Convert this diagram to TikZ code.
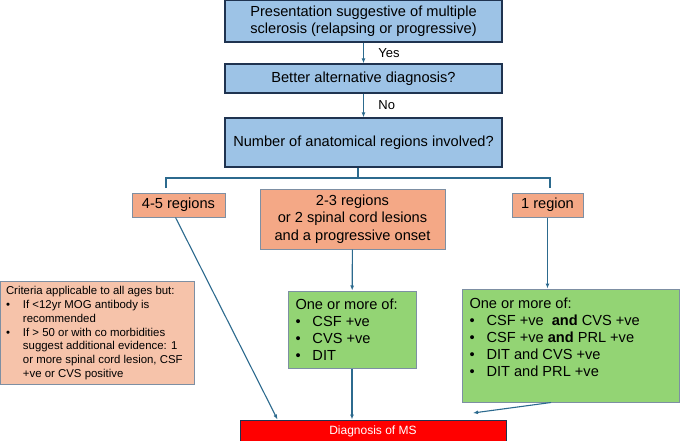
\documentclass[tikz,border=0pt]{standalone}
\usepackage{fontspec}
\setmainfont{Liberation Sans}
\usetikzlibrary{arrows.meta}
\definecolor{qfill}{HTML}{9DC3E6}
\definecolor{qline}{HTML}{1F3350}
\definecolor{regfill}{HTML}{F4A886}
\definecolor{critfill}{HTML}{F6C3AA}
\definecolor{okfill}{HTML}{93D474}
\definecolor{greyline}{HTML}{7D8FA3}
\definecolor{linkcol}{HTML}{2C6A8E}
\newcommand\bul{\makebox[17pt][l]{\textbullet}}
\newcommand\hang{\hspace*{17pt}}
\tikzset{
  qbox/.style={draw=qline, fill=qfill, line width=1.3pt, minimum width=277pt, align=center, font=\fontsize{14.6}{17}\selectfont},
  regbox/.style={draw=greyline, fill=regfill, line width=1pt, align=center, font=\fontsize{14.6}{17.4}\selectfont},
  okbox/.style={draw=greyline, fill=okfill, line width=1pt, inner xsep=7.5pt, inner ysep=7.5pt, font=\fontsize{14.6}{17}\selectfont},
  link/.style={draw=linkcol, line width=1.1pt},
  arr/.style={link, -{Latex[length=5pt,width=4pt]}}
}
\begin{document}
\begin{tikzpicture}[x=1pt,y=-1pt]
\useasboundingbox (0,0) rectangle (680,441);
\node[qbox, minimum height=42pt] (pres) at (363.5,21) {Presentation suggestive of multiple\\sclerosis (relapsing or progressive)};
\node[qbox, minimum height=29pt] (alt) at (363.5,78.5) {Better alternative diagnosis?};
\node[qbox, minimum height=49pt] (num) at (363.5,142.5) {Number of anatomical regions involved?};
\node[regbox, minimum width=93pt, minimum height=24pt] (many) at (178.5,205) {4-5 regions};
\node[regbox, minimum width=185pt, minimum height=60pt] (some) at (352.5,219) {2-3 regions\\or 2 spinal cord lesions\\and a progressive onset};
\node[regbox, minimum width=71pt, minimum height=24pt] (one) at (547.5,205) {1 region};
\node[draw=greyline, fill=critfill, line width=1pt, inner xsep=6pt, inner ysep=5.7pt, font=\fontsize{11.4}{13.7}\selectfont] (crit) at (97,332.5)
  {\parbox[t][91.6pt][t]{182pt}{Criteria applicable to all ages but:\\
  \bul If <12yr MOG antibody is\\
  \hang recommended\\
  \bul If > 50 or with co morbidities\\
  \hang suggest additional evidence: 1\\
  \hang or more spinal cord lesion, CSF\\
  \hang +ve or CVS positive}};
\node[okbox] (oksome) at (352,329.5)
  {\parbox[t][62pt][t]{113pt}{One or more of:\\
  \bul CSF +ve\\
  \bul CVS +ve\\
  \bul DIT}};
\node[okbox, inner ysep=8.5pt] (okone) at (570.5,345.5)
  {\parbox[t][96pt][t]{202pt}{One or more of:\\
  \bul CSF +ve\ \ \textbf{and} CVS +ve\\
  \bul CSF +ve \textbf{and} PRL +ve\\
  \bul DIT and CVS +ve\\
  \bul DIT and PRL +ve}};
\node[draw=qline, fill=red, text=white, line width=1pt, minimum width=266pt, minimum height=22pt, font=\fontsize{12}{14}\selectfont] (ms) at (373,431) {Diagnosis of MS};
\coordinate (fork) at (358,178);
\coordinate (forkl) at (166,188);
\coordinate (forkr) at (550,188);
\coordinate (mstip) at (473,413);
\draw[arr] (pres) -- (alt) node[midway, right, xshift=11pt, font=\fontsize{13}{15}\selectfont] {Yes};
\draw[arr] (alt) -- (num) node[midway, right, xshift=11pt, font=\fontsize{13}{15}\selectfont] {No};
\draw[link] (num.south -| fork) -- (fork);
\draw[link] (forkl) |- (fork) -| (forkr);
\draw[arr] ([xshift=-3pt]many.south) -- ([xshift=38pt]ms.north west);
\draw[arr] (some) -- (oksome);
\draw[arr] (one) -- (okone.north -| one);
\draw[arr] (oksome) -- (oksome |- ms.north);
\draw[arr] ([xshift=-19.5pt]okone.south) -- (mstip);
\end{tikzpicture}
\end{document}
